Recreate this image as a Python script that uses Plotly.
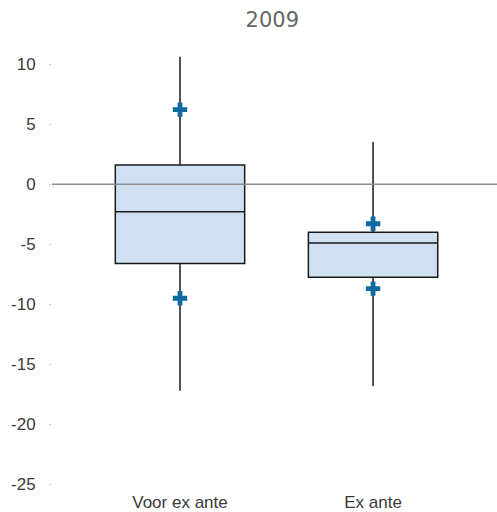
import plotly.graph_objects as go

categories = ["Voor ex ante", "Ex ante"]
whisker_low = [-17.2, -16.8]
q1 = [-6.6, -7.75]
median = [-2.3, -4.9]
q3 = [1.6, -4.0]
whisker_high = [10.6, 3.5]
p_low = [-9.5, -8.7]
p_high = [6.2, -3.3]
y_ticks = [10, 5, 0, -5, -10, -15, -20, -25]

fig = go.Figure()
fig.add_trace(go.Box(
    x=categories, q1=q1, median=median, q3=q3,
    lowerfence=whisker_low, upperfence=whisker_high,
    fillcolor="#cfe0f2", line=dict(color="#1a1a1a", width=1.5),
    width=0.67, whiskerwidth=0, boxpoints=False, hoverinfo="skip",
    showlegend=False,
))
fig.add_trace(go.Scatter(
    x=categories + categories, y=p_low + p_high, mode="markers",
    marker=dict(symbol="cross", size=12, color="#0e6aa0", line=dict(width=0)),
    showlegend=False,
))
fig.add_shape(type="line", xref="paper", x0=0, x1=1, yref="y", y0=0, y1=0,
              line=dict(color="#8c8c8c", width=1.5), layer="above")

fig.update_layout(
    width=497, height=512,
    margin=dict(l=52, r=0, t=46, b=24, autoexpand=False),
    paper_bgcolor="white", plot_bgcolor="white",
    title=dict(text="2009", x=0.495, xref="paper", xanchor="center", y=0.961, yanchor="middle",
               font=dict(family="DejaVu Sans", size=21, color="#666666")),
    font=dict(family="Liberation Sans, Arial", size=17, color="#3a3a3a"),
    xaxis=dict(type="category", range=[-0.663, 1.642], showgrid=False, zeroline=False,
               showline=False, ticks="", automargin=False, ticklabelstandoff=2,
               tickfont=dict(size=17, color="#3a3a3a")),
    yaxis=dict(range=[-25.3, 11.5], tickvals=y_ticks, ticktext=[str(v) for v in y_ticks],
               showgrid=False, zeroline=False, showline=False, automargin=False,
               ticks="outside", ticklen=2, tickcolor="#cccccc", ticklabelstandoff=10,
               tickfont=dict(size=17, color="#3a3a3a")),
)
fig.write_html("out.html", config={"displayModeBar": False},
               post_script="document.body.style.margin='0';")
